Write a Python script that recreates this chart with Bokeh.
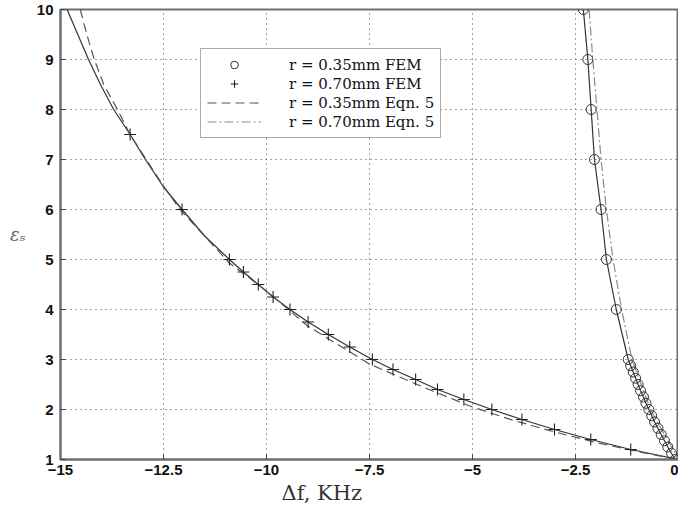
from bokeh.plotting import figure
from bokeh.models import Range1d, Title
from bokeh.embed import file_html
from bokeh.resources import INLINE

# ---------------- data ----------------
# FEM, r = 0.35 mm (circles)
fem35_df = [-2.31, -2.20, -2.12, -2.04, -1.88, -1.75, -1.51, -1.22, -1.16, -1.10, -1.04,
            -0.98, -0.92, -0.85, -0.79, -0.72, -0.65, -0.58, -0.50, -0.42, -0.34, -0.26,
            -0.17, -0.08]
fem35_eps = [10, 9, 8, 7, 6, 5, 4, 3.0, 2.875, 2.75, 2.625, 2.5, 2.375, 2.25, 2.125, 2.0,
             1.875, 1.75, 1.625, 1.5, 1.375, 1.25, 1.125, 1.0]

# FEM, r = 0.70 mm (plus signs)
fem70_df = [-13.31, -12.05, -10.90, -10.56, -10.20, -9.84, -9.43, -8.99, -8.50, -7.98,
            -7.43, -6.93, -6.38, -5.85, -5.21, -4.53, -3.80, -3.01, -2.13, -1.16]
fem70_eps = [7.5, 6.0, 5.0, 4.75, 4.5, 4.25, 4.0, 3.75, 3.5, 3.25, 3.0, 2.8, 2.6, 2.4,
             2.2, 2.0, 1.8, 1.6, 1.4, 1.2]

# solid curves through the FEM results
curve35_df = fem35_df + [0.0]
curve35_eps = fem35_eps + [1.0]
curve70_df = [-14.84, -14.58, -14.32, -14.03, -13.71, -13.31, -12.94, -12.50, -12.05,
              -11.50, -10.90, -10.56, -10.20, -9.84, -9.43, -8.99, -8.50, -7.98, -7.43,
              -6.93, -6.38, -5.85, -5.21, -4.53, -3.80, -3.01, -2.13, -1.16, 0.0]
curve70_eps = [10, 9.5, 9, 8.5, 8, 7.5, 7.0, 6.45, 6.0, 5.47, 5.0, 4.75, 4.5, 4.25, 4.0,
               3.75, 3.5, 3.25, 3.0, 2.8, 2.6, 2.4, 2.2, 2.0, 1.8, 1.6, 1.4, 1.2, 1.0]

# Eqn. 5 curves
eqn_dashed_df = [-14.52, -14.36, -14.18, -13.95, -13.62, -13.31, -12.92, -12.50, -12.10,
                 -10.90, -10.00, -9.00, -7.50, -6.00, -5.00, -4.00, -3.00, -2.00, -1.00, 0.0]
eqn_dashed_eps = [10, 9.5, 9, 8.5, 8, 7.5, 7.0, 6.47, 6.0, 4.93, 4.37, 3.67, 2.91, 2.38,
                  2.05, 1.78, 1.55, 1.34, 1.16, 1.0]
eqn_dashdot_df = [-2.17, -2.08, -1.98, -1.88, -1.75, -1.59, -1.38, -1.13, -0.68, 0.0]
eqn_dashdot_eps = [10, 9, 8, 7, 6, 5, 4, 3, 2, 1]

legend_labels = ["r = 0.35mm FEM", "r = 0.70mm FEM", "r = 0.35mm Eqn. 5", "r = 0.70mm Eqn. 5"]

x_title = "\u0394f, KHz"
y_title = "\u03b5\u209b"

x_ticks = [-15, -12.5, -10, -7.5, -5, -2.5, 0]
x_tick_labels = ["\u221215", "\u221212.5", "\u221210", "\u22127.5", "\u22125", "\u22122.5", "0"]
y_ticks = [1, 2, 3, 4, 5, 6, 7, 8, 9, 10]
y_tick_labels = ["1", "2", "3", "4", "5", "6", "7", "8", "9", "10"]

# ---------------- figure ----------------
p = figure(width=678, height=512, x_range=Range1d(-15, 0), y_range=Range1d(1, 10),
           output_backend="svg", toolbar_location=None,
           min_border_left=60, min_border_right=0, min_border_top=9, min_border_bottom=53)
p.background_fill_color = "white"
p.border_fill_color = "white"
p.outline_line_color = "#6e6e6e"
p.outline_line_width = 2

for ax, ticks, labels in ((p.xaxis, x_ticks, x_tick_labels), (p.yaxis, y_ticks, y_tick_labels)):
    ax.ticker = ticks
    ax.major_label_overrides = {t: l for t, l in zip(ticks, labels)}
    ax.major_tick_in = 5
    ax.major_tick_out = 0
    ax.minor_tick_line_color = None
    ax.axis_line_color = "#6e6e6e"
    ax.axis_line_width = 2
    ax.major_tick_line_color = "#444444"
    ax.major_label_text_font = "Liberation Sans"
    ax.major_label_text_font_size = "15px"
    ax.major_label_text_font_style = "bold"
    ax.major_label_text_color = "#111111"
p.xaxis.major_label_standoff = 5
p.yaxis.major_label_standoff = 7

# y title: horizontal, italic, grey
p.yaxis.axis_label = y_title
p.yaxis.axis_label_orientation = "horizontal"
p.yaxis.axis_label_text_font = "DejaVu Serif"
p.yaxis.axis_label_text_font_style = "italic"
p.yaxis.axis_label_text_font_size = "18px"
p.yaxis.axis_label_text_color = "#666666"
p.yaxis.axis_label_standoff = 8

# x title, placed left of centre as in the reference
p.add_layout(Title(text=x_title, align="left", offset=221, text_font="DejaVu Serif",
                   text_font_size="21px", text_font_style="normal", text_color="#333333",
                   standoff=3), "below")

for g in (p.xgrid, p.ygrid):
    g.grid_line_color = "#333333"
    g.grid_line_alpha = 0.9
    g.grid_line_width = 1
    g.grid_line_dash = "1 4"

# curves
p.line(curve70_df, curve70_eps, line_color="#333333", line_width=1.2)
p.line(curve35_df, curve35_eps, line_color="#333333", line_width=1.2)
p.line(eqn_dashed_df, eqn_dashed_eps, line_color="#555555", line_width=1.2,
       line_dash="9 5", legend_label=legend_labels[2])
p.line(eqn_dashdot_df, eqn_dashdot_eps, line_color="#8a8a8a", line_width=1.2,
       line_dash="9 3 2 3", legend_label=legend_labels[3])

# markers
p.scatter(fem35_df, fem35_eps, marker="circle", size=10, fill_color=None,
          line_color="#333333", line_width=1, legend_label=legend_labels[0])
p.scatter(fem70_df, fem70_eps, marker="cross", size=12, line_color="#222222",
          line_width=1.1, legend_label=legend_labels[1])

# legend, in the reference's order
order = {legend_labels[i]: i for i in range(4)}
p.legend.items = sorted(p.legend.items, key=lambda it: order[it.label.value])
lg = p.legend[0]
lg.location = (140, 459 - 138)
lg.padding = 6
lg.spacing = 0
lg.margin = 0
lg.label_height = 19
lg.glyph_height = 19
lg.glyph_width = 54
lg.label_standoff = 28
lg.label_text_font = "DejaVu Serif"
lg.label_text_font_size = "15px"
lg.label_text_color = "#111111"
lg.border_line_color = "#555555"
lg.border_line_width = 1.5
lg.background_fill_alpha = 1.0

open("out.html", "w").write(file_html(p, INLINE))
